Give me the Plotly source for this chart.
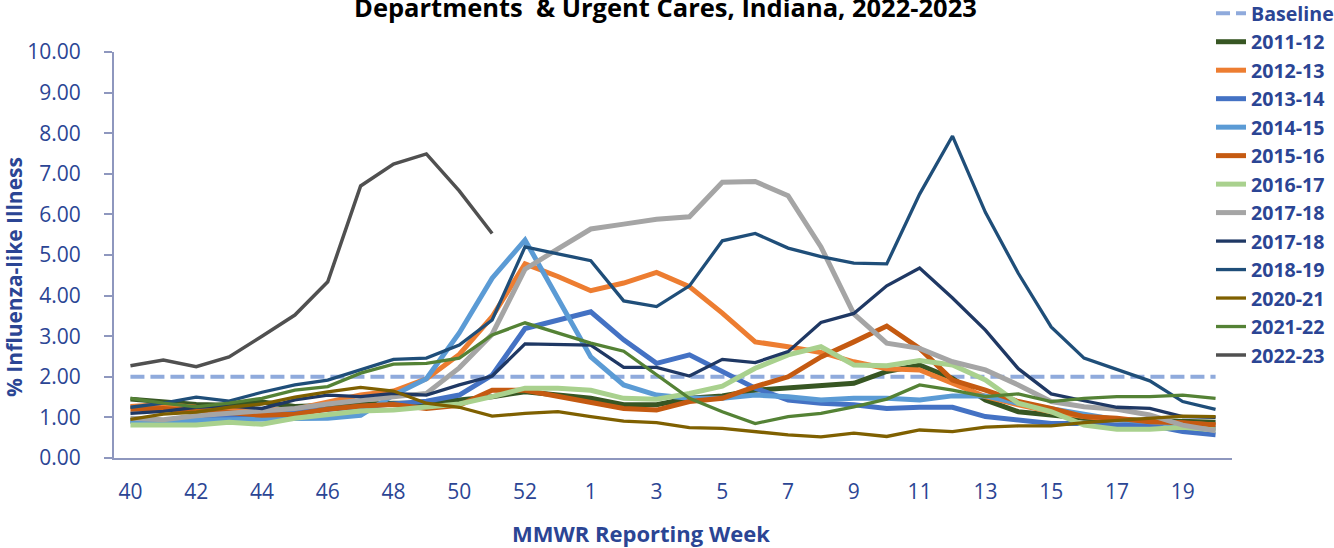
import plotly.graph_objects as go

weeks = [str(w) for w in range(40, 54)] + [str(w) for w in range(1, 21)]
tick_labels = ["40", "42", "44", "46", "48", "50", "52", "1", "3", "5", "7", "9", "11", "13", "15", "17", "19"]

baseline = [2.0] * 34
s2011_12 = [1.45, 1.38, 1.32, 1.30, 1.38, 1.27, 1.30, 1.35, 1.35, 1.35, 1.43, 1.51, 1.63, 1.55, 1.47, 1.31, 1.31, 1.47, 1.53, 1.67, 1.72, 1.80, 1.84, 2.13, 2.29, 1.96, 1.43, 1.14, 1.06, 0.98, 0.95, 0.92, 0.90, 0.88]
s2012_13 = [1.27, 1.32, 1.25, 1.20, 1.18, 1.20, 1.38, 1.55, 1.65, 1.95, 2.55, 3.48, 4.78, 4.47, 4.12, 4.31, 4.57, 4.22, 3.57, 2.86, 2.74, 2.60, 2.37, 2.20, 2.17, 1.84, 1.51, 1.31, 1.14, 1.02, 0.94, 0.90, 0.85, 0.81]
s2013_14 = [0.92, 0.88, 0.93, 1.00, 1.05, 1.12, 1.20, 1.26, 1.32, 1.40, 1.55, 2.04, 3.19, 3.40, 3.60, 2.91, 2.33, 2.54, 2.13, 1.72, 1.43, 1.35, 1.31, 1.22, 1.25, 1.25, 1.02, 0.94, 0.85, 0.85, 0.81, 0.81, 0.65, 0.57]
s2014_15 = [0.90, 0.92, 0.93, 0.95, 0.98, 0.97, 0.98, 1.05, 1.55, 1.95, 3.08, 4.43, 5.37, 3.93, 2.49, 1.80, 1.55, 1.47, 1.47, 1.55, 1.51, 1.43, 1.47, 1.47, 1.43, 1.53, 1.53, 1.35, 1.22, 1.06, 0.94, 0.89, 0.81, 0.73]
s2015_16 = [1.20, 1.22, 1.15, 1.12, 1.05, 1.08, 1.20, 1.28, 1.32, 1.22, 1.30, 1.67, 1.67, 1.51, 1.35, 1.22, 1.18, 1.39, 1.47, 1.76, 2.00, 2.49, 2.86, 3.25, 2.70, 1.92, 1.67, 1.39, 1.22, 1.02, 0.98, 0.89, 0.87, 0.81]
s2016_17 = [0.81, 0.80, 0.81, 0.88, 0.83, 0.98, 1.06, 1.16, 1.18, 1.26, 1.33, 1.51, 1.72, 1.72, 1.67, 1.47, 1.45, 1.59, 1.77, 2.21, 2.54, 2.74, 2.29, 2.27, 2.40, 2.29, 1.92, 1.35, 1.14, 0.81, 0.71, 0.71, 0.76, 0.69]
s2017_18a = [0.98, 0.94, 1.04, 1.10, 1.16, 1.22, 1.33, 1.43, 1.51, 1.59, 2.22, 3.05, 4.65, 5.15, 5.64, 5.76, 5.88, 5.94, 6.79, 6.81, 6.46, 5.20, 3.55, 2.83, 2.70, 2.37, 2.17, 1.80, 1.39, 1.26, 1.20, 1.06, 0.81, 0.67]
s2017_18b = [1.10, 1.15, 1.25, 1.28, 1.22, 1.43, 1.55, 1.51, 1.59, 1.55, 1.80, 2.02, 2.81, 2.80, 2.78, 2.23, 2.23, 2.02, 2.43, 2.35, 2.62, 3.34, 3.56, 4.24, 4.68, 3.94, 3.15, 2.20, 1.58, 1.41, 1.25, 1.22, 1.02, 1.00]
s2018_19 = [1.25, 1.35, 1.50, 1.40, 1.62, 1.80, 1.92, 2.17, 2.43, 2.46, 2.78, 3.40, 5.20, 5.03, 4.86, 3.87, 3.73, 4.24, 5.35, 5.53, 5.17, 4.96, 4.80, 4.78, 6.50, 7.93, 6.05, 4.55, 3.23, 2.46, 2.17, 1.90, 1.39, 1.20]
s2020_21 = [0.95, 1.08, 1.13, 1.25, 1.33, 1.50, 1.63, 1.74, 1.65, 1.35, 1.25, 1.03, 1.10, 1.14, 1.02, 0.91, 0.87, 0.75, 0.73, 0.65, 0.57, 0.52, 0.61, 0.53, 0.69, 0.65, 0.76, 0.79, 0.79, 0.87, 0.92, 0.98, 1.03, 1.02]
s2021_22 = [1.47, 1.35, 1.26, 1.35, 1.47, 1.67, 1.76, 2.09, 2.31, 2.33, 2.46, 3.03, 3.33, 3.08, 2.83, 2.63, 2.04, 1.47, 1.14, 0.85, 1.02, 1.10, 1.26, 1.45, 1.80, 1.67, 1.51, 1.58, 1.39, 1.47, 1.51, 1.51, 1.55, 1.47]
s2022_23 = [2.27, 2.41, 2.25, 2.49, 3.00, 3.52, 4.34, 6.70, 7.24, 7.49, 6.58, 5.53]

series = [
    ("2011-12", s2011_12, "#375623", 5),
    ("2012-13", s2012_13, "#ED7D31", 5),
    ("2013-14", s2013_14, "#4472C4", 5),
    ("2014-15", s2014_15, "#5B9BD5", 5),
    ("2015-16", s2015_16, "#C55A11", 5),
    ("2016-17", s2016_17, "#A9D18E", 5),
    ("2017-18", s2017_18a, "#A5A5A5", 5),
    ("2017-18", s2017_18b, "#1F3864", 3.3),
    ("2018-19", s2018_19, "#1F4E79", 3.3),
    ("2020-21", s2020_21, "#7F6000", 3.3),
    ("2021-22", s2021_22, "#548235", 3.3),
    ("2022-23", s2022_23, "#505050", 3.5),
]

TXT = "#2B4594"
AX = "#8E97BE"
FONT = "Open Sans, sans-serif"

fig = go.Figure()
fig.add_trace(go.Scatter(x=weeks, y=baseline, mode="lines", name="Baseline",
                         line=dict(color="#8FAADC", width=4, dash="14px,6px")))
for name, vals, color, w in series:
    fig.add_trace(go.Scatter(x=weeks[:len(vals)], y=vals, mode="lines", name=name,
                             line=dict(color=color, width=w)))

W, H = 1334, 548
ml, mr, mt, mb = 114, 102, 52, 90
pw, ph = W - ml - mr, H - mt - mb

def px(x):
    return (x - ml) / pw

def py(y):
    return (H - mb - y) / ph

fig.update_layout(
    width=W, height=H,
    margin=dict(l=ml, r=mr, t=mt, b=mb, autoexpand=False),
    plot_bgcolor="white", paper_bgcolor="white",
    font=dict(family=FONT, color=TXT),
    showlegend=True,
    legend=dict(x=px(1211), y=py(-6), xanchor="left", yanchor="top",
                font=dict(family=FONT, size=19.6, color=TXT, weight="bold"),
                bgcolor="rgba(0,0,0,0)", borderwidth=0, tracegroupgap=0,
                maxheight=560),
    xaxis=dict(type="category", categoryorder="array", categoryarray=weeks,
               range=[-0.5, 33.5],
               tickmode="array", tickvals=tick_labels, ticktext=tick_labels,
               showline=True, linecolor=AX, linewidth=2, ticks="",
               showgrid=False, zeroline=False,
               tickfont=dict(family=FONT, size=21, color=TXT),
               ticklabelstandoff=14),
    yaxis=dict(range=[0, 10], dtick=1, tickformat=".2f",
               showline=True, linecolor=AX, linewidth=2,
               ticks="outside", ticklen=8, tickcolor=AX, tickwidth=2,
               showgrid=False, zeroline=False,
               tickfont=dict(family=FONT, size=21, color=TXT),
               ticklabelstandoff=19),
    annotations=[
        dict(text="Departments  & Urgent Cares, Indiana, 2022-2023", xref="paper", yref="paper",
             x=px(665), y=py(7), xanchor="center", yanchor="middle", showarrow=False,
             font=dict(family=FONT, size=25.5, color="black", weight="bold")),
        dict(text="% Influenza-like Illness", xref="paper", yref="paper",
             x=px(14), y=py(277), xanchor="center", yanchor="middle", showarrow=False,
             textangle=-90, font=dict(family=FONT, size=21, color=TXT, weight="bold")),
        dict(text="MMWR Reporting Week", xref="paper", yref="paper",
             x=px(641), y=py(533), xanchor="center", yanchor="middle", showarrow=False,
             font=dict(family=FONT, size=22, color=TXT, weight="bold")),
    ],
)

fig.write_html("out.html", config={"displayModeBar": False},
               post_script="document.body.style.margin='0';")
